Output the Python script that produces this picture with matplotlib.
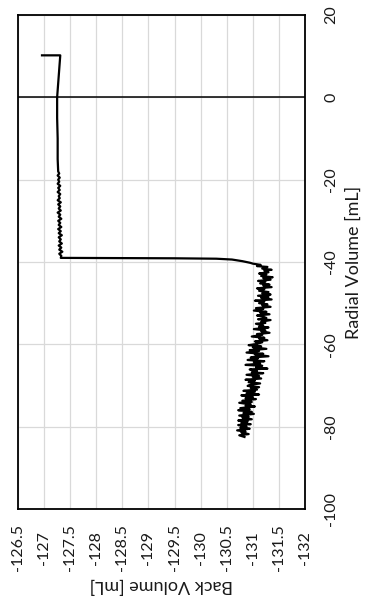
import matplotlib
matplotlib.use("Agg")
import matplotlib.pyplot as plt

plt.rcParams['font.family'] = ['Lato', 'DejaVu Sans']

# Axis ticks
back_ticks = [-126.5, -127, -127.5, -128, -128.5, -129, -129.5, -130,
              -130.5, -131, -131.5, -132]
radial_ticks = [-100, -80, -60, -40, -20, 0, 20]

# Upper branch: start segment and straight descent
radial_start = [10.2, 10.2, 5, 0, -5, -10, -15]
back_start = [-126.96, -127.31, -127.28, -127.25, -127.25, -127.26, -127.26]

# Slightly noisy part of the upper branch
radial_upper = [-18.0, -18.5, -19.0, -19.5, -20.0, -20.5, -21.0, -21.5, -22.0, -22.5,
                -23.0, -23.5, -24.0, -24.5, -25.0, -25.5, -26.0, -26.5, -27.0, -27.5,
                -28.0, -28.5, -29.0, -29.5, -30.0, -30.5, -31.0, -31.5, -32.0, -32.5,
                -33.0, -33.5, -34.0, -34.5, -35.0, -35.5, -36.0, -36.5, -37.0, -37.5,
                -38.0, -38.5, -39.0]
back_upper = [-127.27, -127.29, -127.26, -127.30, -127.27, -127.29, -127.26, -127.31,
              -127.27, -127.30, -127.26, -127.31, -127.28, -127.30, -127.26, -127.32,
              -127.27, -127.31, -127.28, -127.32, -127.26, -127.31, -127.28, -127.33,
              -127.27, -127.31, -127.28, -127.33, -127.27, -127.32, -127.28, -127.34,
              -127.28, -127.32, -127.29, -127.34, -127.28, -127.33, -127.29, -127.35,
              -127.29, -127.33, -127.32]

# Jump across to the lower branch
radial_jump = [-39.05, -39.1, -39.2, -39.4, -39.8, -40.2]
back_jump = [-128.5, -129.5, -130.3, -130.6, -130.8, -130.95]

# Lower branch (noisy)
radial_lower = [
    -40.4, -40.7, -41.0, -41.2, -41.6, -41.9, -42.1, -42.5, -42.8, -43.0,
    -43.4, -43.7, -43.9, -44.3, -44.6, -44.8, -45.2, -45.5, -45.7, -46.1,
    -46.4, -46.6, -47.0, -47.3, -47.6, -47.9,
    -48.2, -48.5, -48.7, -49.1, -49.4, -49.6, -50.0, -50.3, -50.5, -50.9,
    -51.2, -51.4, -51.8, -52.1, -52.3, -52.7, -53.0, -53.2, -53.6, -53.9,
    -54.1, -54.5, -54.8, -55.0, -55.4, -55.7, -55.9, -56.3, -56.6, -56.8,
    -57.2, -57.5, -57.7, -58.1, -58.4, -58.6, -59.0, -59.3, -59.5, -59.9,
    -60.2, -60.5, -60.7, -61.1, -61.4, -61.6, -62.0, -62.3, -62.5, -62.9,
    -63.2, -63.4, -63.8, -64.1, -64.3, -64.7, -65.0, -65.2, -65.6, -65.9,
    -66.1, -66.5, -66.8, -67.0, -67.4, -67.7, -67.9, -68.3, -68.6, -68.8,
    -69.2, -69.5, -69.8,
    -70.1, -70.4, -70.6, -71.0, -71.3, -71.5, -71.9, -72.2, -72.4, -72.8,
    -73.1, -73.3, -73.7, -74.0, -74.2, -74.6, -74.9, -75.1, -75.5, -75.8,
    -76.0, -76.4, -76.7, -76.9, -77.3, -77.6, -77.8, -78.2, -78.5, -78.7,
    -79.1, -79.4, -79.6, -80.0, -80.3, -80.5, -80.9, -81.2, -81.4, -81.8,
    -82.1, -82.5]
back_lower = [
    -131.00, -131.15, -131.08, -131.28, -131.18, -131.36, -131.22, -131.30, -131.12, -131.26,
    -131.16, -131.38, -131.20, -131.34, -131.10, -131.24, -131.14, -131.32, -131.20, -131.36,
    -131.08, -131.22, -131.12, -131.30, -131.18, -131.34,
    -131.10, -131.30, -131.16, -131.36, -131.04, -131.22, -131.12, -131.28, -131.18, -131.34,
    -131.06, -131.20, -131.02, -131.26, -131.14, -131.32, -131.08, -131.18, -131.26, -131.10,
    -131.34, -131.16, -131.24, -131.06, -131.20, -131.12, -131.30, -131.02, -131.24, -131.16,
    -131.32, -131.08, -131.18, -130.98, -131.22, -131.12, -131.28, -131.04, -131.18, -131.08,
    -130.92, -131.16, -131.00, -131.26, -130.94, -131.12, -130.88, -131.20, -131.04, -131.30,
    -130.96, -131.10, -130.90, -131.22, -131.02, -131.14, -130.86, -131.18, -131.06, -131.28,
    -130.94, -131.08, -130.98, -131.20, -130.88, -131.12, -131.00, -131.16, -130.86, -131.04,
    -130.92, -131.14, -130.96,
    -130.90, -131.12, -130.96, -131.08, -130.82, -131.04, -130.88, -131.12, -130.78, -131.00,
    -130.86, -131.06, -130.80, -130.98, -130.74, -130.96, -130.86, -131.04, -130.76, -130.94,
    -130.72, -130.98, -130.82, -131.02, -130.74, -130.92, -130.80, -130.98, -130.72, -130.90,
    -130.78, -130.96, -130.72, -130.88, -130.76, -130.94, -130.70, -130.86, -130.78, -130.92,
    -130.74, -130.84]

back = back_start + back_upper + back_jump + back_lower
radial = radial_start + radial_upper + radial_jump + radial_lower

fig = plt.figure(figsize=(3.73, 6.05), dpi=100)
ax = fig.add_axes([18 / 373, 1 - 509 / 605, (305 - 18) / 373, (509 - 15) / 605])

ax.plot(back, radial, color='black', lw=1.6, zorder=3)
ax.axhline(0, color='black', lw=1.1, zorder=2)

ax.set_xlim(-126.5, -132)
ax.set_ylim(-100, 20)
ax.set_xticks(back_ticks)
ax.set_xticklabels([f"{v:g}" for v in back_ticks])
ax.set_yticks(radial_ticks)
ax.set_yticklabels([f"{v:g}" for v in radial_ticks])

ax.grid(True, color='#d9d9d9', lw=0.9, zorder=0)
ax.set_axisbelow(True)
for s in ax.spines.values():
    s.set_color('black')
    s.set_linewidth(1.3)

ax.yaxis.tick_right()
ax.yaxis.set_label_position('right')
ax.tick_params(axis='both', length=0, labelsize=11.5, colors='#1a1a1a')
ax.tick_params(axis='x', pad=28)
ax.tick_params(axis='y', pad=19)
for lab in ax.get_xticklabels():
    lab.set_rotation(90)
    lab.set_va('center')
    lab.set_ha('center')
for lab in ax.get_yticklabels():
    lab.set_rotation(90)
    lab.set_va('center')
    lab.set_ha('center')

ax.set_xlabel('Back Volume [mL]', fontsize=13, rotation=180, color='#1a1a1a', labelpad=4)
ax.set_ylabel('Radial Volume [mL]', fontsize=13, rotation=90, color='#1a1a1a', labelpad=5)

fig.savefig('out.png', dpi=100)
